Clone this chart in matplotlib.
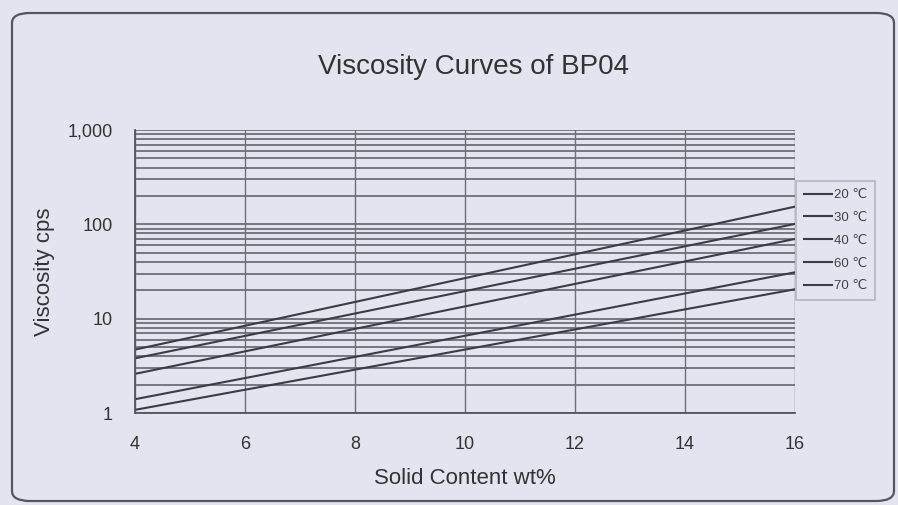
import matplotlib
matplotlib.use('Agg')
import matplotlib.pyplot as plt
from matplotlib.patches import FancyBboxPatch
from matplotlib.ticker import FixedLocator, LogLocator, NullFormatter

# viscosity (cps) at 4 wt% and 16 wt% for each temperature; straight on log axis
temps = ['20 \u2103', '30 \u2103', '40 \u2103', '60 \u2103', '70 \u2103']
solid = [4, 16]
visc_20 = [4.7, 154]
visc_30 = [3.8, 101]
visc_40 = [2.6, 70]
visc_60 = [1.4, 31]
visc_70 = [1.08, 20.5]

xticks = [4, 6, 8, 10, 12, 14, 16]
yticks = [1, 10, 100, 1000]
ylabels = ['1', '10', '100', '1,000']

plt.rcParams['font.family'] = ['Liberation Sans', 'DejaVu Sans']
bg = '#e3e4ef'

fig = plt.figure(figsize=(8.98, 5.05), dpi=100)
fig.patch.set_facecolor(bg)

# rounded frame around the whole chart
frame = FancyBboxPatch((12 / 898, 4 / 505), 882 / 898, 488 / 505,
                       boxstyle='round,pad=0,rounding_size=0.02',
                       transform=fig.transFigure, facecolor='none',
                       edgecolor='#555560', linewidth=1.6, zorder=-1)
fig.patches.append(frame)

ax = fig.add_axes([135 / 898, 92 / 505, 660 / 898, 283 / 505])
ax.set_facecolor(bg)
ax.set_yscale('log')
ax.set_xlim(4, 16)
ax.set_ylim(1, 1000)

# horizontal grid at every 1..9 of each decade, vertical at even wt%
ax.yaxis.set_minor_locator(LogLocator(base=10, subs=range(2, 10)))
ax.yaxis.set_minor_formatter(NullFormatter())
ax.grid(True, which='both', axis='y', color='#6e6e78', linewidth=1.3)
ax.xaxis.set_major_locator(FixedLocator(xticks))
ax.grid(True, which='major', axis='x', color='#6e6e78', linewidth=1.0)

for vals, t in zip([visc_20, visc_30, visc_40, visc_60, visc_70], temps):
    ax.plot(solid, vals, color='#3c3c44', linewidth=1.5, label=t)

ax.set_yticks(yticks)
ax.set_yticklabels(ylabels)
ax.tick_params(axis='both', which='both', length=0, labelsize=13,
               labelcolor='#333333')
ax.tick_params(axis='x', pad=16.5)
ax.tick_params(axis='y', pad=16)
for s in ['top', 'right']:
    ax.spines[s].set_visible(False)
for s in ['left', 'bottom']:
    ax.spines[s].set_color('#55555e')
    ax.spines[s].set_linewidth(1.3)

ax.set_xlabel('Solid Content wt%', fontsize=16, color='#333333', labelpad=11)
ax.set_ylabel('Viscosity cps', fontsize=16, color='#333333', labelpad=9)
fig.text(474 / 898, 1 - 67 / 505, 'Viscosity Curves of BP04', fontsize=20,
         color='#333333', ha='center', va='center')

leg = ax.legend(loc='upper left', bbox_to_anchor=(796 / 898, 1 - 181 / 505),
                bbox_transform=fig.transFigure, fontsize=9.5, frameon=True,
                fancybox=False, edgecolor='#a8a8b2', facecolor=bg,
                handlelength=2.1, handletextpad=0.2, labelspacing=0.8,
                borderaxespad=0, borderpad=0.6)
leg.get_frame().set_linewidth(1.2)
for txt in leg.get_texts():
    txt.set_color('#444444')

fig.savefig('out.png', dpi=100, facecolor=bg)
